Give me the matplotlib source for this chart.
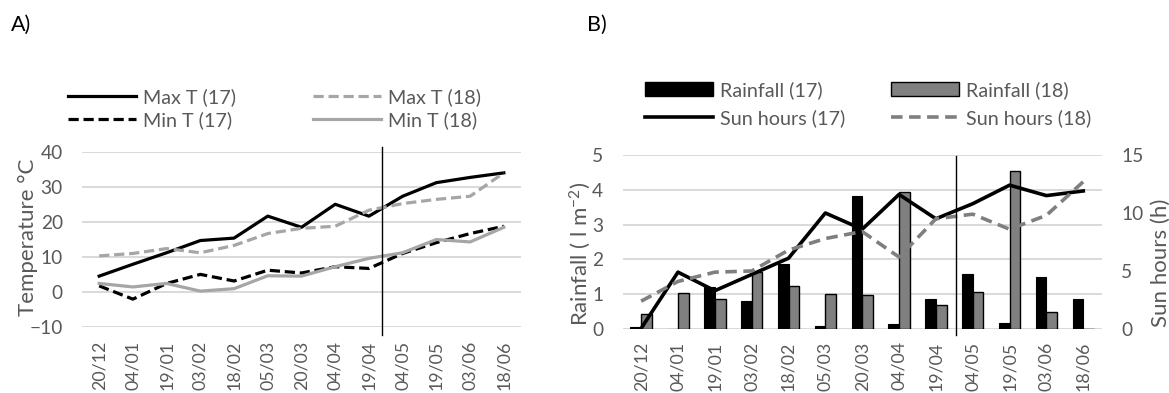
import matplotlib
matplotlib.use("Agg")
import matplotlib.pyplot as plt
import matplotlib.transforms as mtransforms
from matplotlib.lines import Line2D
from matplotlib.patches import Patch
import numpy as np

plt.rcParams['font.family'] = ['Lato', 'DejaVu Sans']
plt.rcParams['mathtext.default'] = 'regular'

# ---------------- data ----------------
dates = ['20/12', '04/01', '19/01', '03/02', '18/02', '05/03', '20/03',
         '04/04', '19/04', '04/05', '19/05', '03/06', '18/06']

max_t_17 = [4.5, 7.9, 11.2, 14.7, 15.4, 21.7, 18.5, 25.1, 21.7, 27.4, 31.3, 32.8, 34.1]
max_t_18 = [10.3, 11.0, 12.4, 11.2, 13.3, 16.7, 18.2, 18.8, 23.4, 25.3, 26.5, 27.4, 34.1]
min_t_17 = [1.7, -2.1, 2.4, 5.0, 3.1, 6.2, 5.4, 7.2, 6.7, 11.0, 14.1, 16.7, 18.8]
min_t_18 = [2.4, 1.4, 2.4, 0.2, 0.9, 4.6, 4.5, 7.2, 9.6, 11.2, 15.0, 14.3, 18.5]

rain_17 = [0.07, 0.0, 1.22, 0.80, 1.87, 0.09, 3.83, 0.14, 0.85, 1.57, 0.18, 1.48, 0.85]
rain_18 = [0.42, 1.04, 0.86, 1.63, 1.24, 1.00, 0.98, 3.95, 0.69, 1.06, 4.54, 0.50, 0.0]
sun_17 = [0.05, 4.9, 3.3, 4.7, 6.1, 10.0, 8.6, 11.6, 9.5, 10.8, 12.4, 11.5, 11.9]
sun_18 = [2.4, 4.1, 4.9, 5.0, 6.8, 7.8, 8.4, 6.2, 9.5, 9.9, 8.6, 9.8, 12.7]

temp_ticks = [-10, 0, 10, 20, 30, 40]
rain_ticks = [0, 1, 2, 3, 4, 5]
sun_ticks = [0, 5, 10, 15]

divider_a = 8.38   # position of vertical marker line (panel A)
divider_b = 8.54   # position of vertical marker line (panel B)

# ---------------- style ----------------
W, H = 1169, 393
TXT = '#595959'
GRID = '#D9D9D9'
LGRAY = '#A6A6A6'
MGRAY = '#7F7F7F'
FS_X = 12.8
FS_Y = 13.8
FS = 14.2
FS_LAB = 16

fig = plt.figure(figsize=(W / 100, H / 100), dpi=100)


def px_axes(x0, x1, y0, y1):
    return fig.add_axes([x0 / W, 1 - y1 / H, (x1 - x0) / W, (y1 - y0) / H])


def style_axes(ax):
    for s in ax.spines.values():
        s.set_visible(False)
    ax.tick_params(length=0, colors=TXT)
    ax.tick_params(axis='x', labelsize=FS_X)
    ax.tick_params(axis='y', labelsize=FS_Y)
    ax.set_axisbelow(True)


x = np.arange(len(dates))

# ---------------- Panel A ----------------
axA = px_axes(82.3, 520.7, 152.3, 326.7)
style_axes(axA)
axA.set_xlim(-0.5, len(dates) - 0.5)
axA.set_ylim(-10, 40)
axA.set_yticks(temp_ticks)
axA.yaxis.grid(True, color=GRID, lw=1.4)
axA.set_xticks(x)
axA.set_xticklabels(dates, rotation=90)
axA.tick_params(axis='x', pad=10)
axA.tick_params(axis='y', pad=14)

lw_a = 2.3
axA.plot(x, max_t_17, color='black', lw=lw_a, label='Max T (17)')
axA.plot(x, max_t_18, color=LGRAY, lw=lw_a, ls=(0, (3.2, 1.5)), label='Max T (18)')
axA.plot(x, min_t_17, color='black', lw=lw_a, ls=(0, (3.2, 1.5)), label='Min T (17)')
axA.plot(x, min_t_18, color=LGRAY, lw=lw_a, label='Min T (18)')

transA = mtransforms.blended_transform_factory(axA.transData, axA.transAxes)
axA.plot([divider_a, divider_a], [-0.048, 1.032], transform=transA,
         color='black', lw=1, clip_on=False)

axA.set_ylabel('Temperature °C', color=TXT, fontsize=FS_LAB)
axA.yaxis.set_label_coords(-0.10, 0.51)

# ---------------- Panel B ----------------
axB = px_axes(622.7, 1101.7, 155, 329)
style_axes(axB)
axB.set_xlim(-0.5, len(dates) - 0.5)
axB.set_ylim(0, 5)
axB.set_yticks(rain_ticks)
axB.yaxis.grid(True, color=GRID, lw=1.4)
axB.set_xticks(x)
axB.set_xticklabels(dates, rotation=90)
axB.tick_params(axis='x', pad=9)
axB.tick_params(axis='y', pad=14)

bw = 0.29
axB.bar(x - bw / 2, rain_17, width=bw, color='black', edgecolor='black', lw=0.8,
        label='Rainfall (17)')
axB.bar(x + bw / 2, rain_18, width=bw, color='#808080', edgecolor='black', lw=1.0,
        label='Rainfall (18)')
axB.set_ylabel('Rainfall ( l m$^{-2}$)', color=TXT, fontsize=FS_LAB)
axB.yaxis.set_label_coords(-0.062, 0.43)

axS = axB.twinx()
style_axes(axS)
axS.set_ylim(0, 15)
axS.set_yticks(sun_ticks)
axS.tick_params(axis='y', pad=14)
lw_b = 2.6
axS.plot(x, sun_17, color='black', lw=lw_b, label='Sun hours (17)')
axS.plot(x, sun_18, color=MGRAY, lw=lw_b, ls=(0, (3.2, 1.8)), label='Sun hours (18)')
transB = mtransforms.blended_transform_factory(axS.transData, axS.transAxes)
axS.plot([divider_b, divider_b], [-0.034, 0.994], transform=transB,
         color='black', lw=1, clip_on=False)
axS.set_ylabel('Sun hours (h)', color=TXT, fontsize=FS_LAB)
axS.yaxis.set_label_coords(1.102, 0.38)

# ---------------- legends ----------------
def leg(handles, labels, x0, ytop, rowgap):
    lg = fig.legend(handles, labels, loc='upper left',
                    bbox_to_anchor=(x0 / W, 1 - ytop / H),
                    frameon=False, fontsize=FS, borderpad=0, borderaxespad=0,
                    handlelength=3.45, handletextpad=0.37, labelspacing=rowgap,
                    labelcolor=TXT)
    return lg

hA1 = [Line2D([], [], color='black', lw=lw_a),
       Line2D([], [], color='black', lw=lw_a, ls=(0, (3.2, 1.5)))]
hA2 = [Line2D([], [], color=LGRAY, lw=lw_a, ls=(0, (3.2, 1.5))),
       Line2D([], [], color=LGRAY, lw=lw_a)]
leg(hA1, ['Max T (17)', 'Min T (17)'], 67.7, 88, 0.25)
leg(hA2, ['Max T (18)', 'Min T (18)'], 312.7, 88, 0.25)

hB1 = [Patch(facecolor='black', edgecolor='black'),
       Line2D([], [], color='black', lw=lw_b)]
hB2 = [Patch(facecolor='#808080', edgecolor='black', lw=1.0),
       Line2D([], [], color=MGRAY, lw=lw_b, ls=(0, (3.2, 1.8)))]
leg(hB1, ['Rainfall (17)', 'Sun hours (17)'], 644.6, 81, 0.52)
leg(hB2, ['Rainfall (18)', 'Sun hours (18)'], 891, 81, 0.52)

fig.text(11 / W, 1 - 25 / H, 'A)', fontsize=15.5, color='black', va='center', ha='left')
fig.text(587 / W, 1 - 25 / H, 'B)', fontsize=15.5, color='black', va='center', ha='left')

fig.savefig('out.png', dpi=100)
